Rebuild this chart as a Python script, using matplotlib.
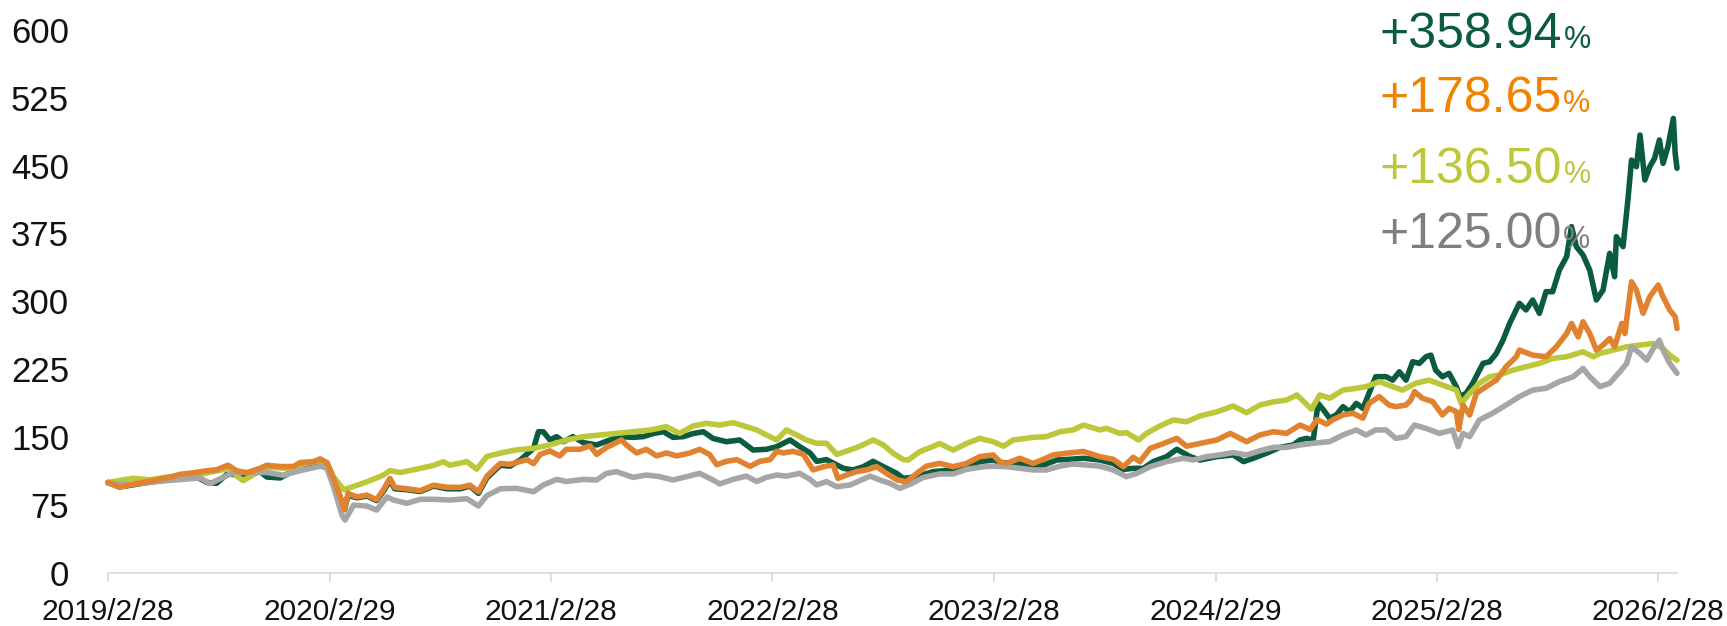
import matplotlib
matplotlib.use('Agg')
import matplotlib.pyplot as plt
import pandas as pd

plt.rcParams['font.family'] = ['Liberation Sans', 'DejaVu Sans']

# ---------------- data (index, start = 100) ----------------
green_dates = ['2019-02-28','2019-03-19','2019-04-16','2019-05-14','2019-06-05','2019-06-27','2019-07-19','2019-08-10','2019-08-26','2019-09-14','2019-09-28','2019-10-15','2019-11-06','2019-11-17','2019-12-09','2019-12-31','2020-01-11','2020-02-02','2020-02-13','2020-02-24','2020-03-06','2020-03-17','2020-03-24','2020-03-30','2020-04-13','2020-04-30','2020-05-16','2020-05-27','2020-06-07','2020-06-15','2020-07-05','2020-07-27','2020-08-18','2020-09-09','2020-10-01','2020-10-17','2020-10-31','2020-11-14','2020-12-06','2020-12-22','2021-01-08','2021-01-30','2021-02-07','2021-02-15','2021-02-26','2021-03-09','2021-03-20','2021-04-05','2021-04-22','2021-05-14','2021-06-05','2021-06-21','2021-07-13','2021-07-30','2021-08-15','2021-09-01','2021-09-17','2021-10-04','2021-10-20','2021-11-06','2021-11-22','2021-12-14','2022-01-05','2022-01-27','2022-02-18','2022-03-07','2022-03-29','2022-04-14','2022-05-01','2022-05-12','2022-05-28','2022-06-08','2022-06-25','2022-07-11','2022-07-28','2022-08-13','2022-08-30','2022-09-21','2022-10-02','2022-10-24','2022-11-20','2022-12-23','2023-01-14','2023-02-05','2023-02-27','2023-03-10','2023-04-07','2023-05-04','2023-05-21','2023-06-12','2023-07-04','2023-07-26','2023-08-22','2023-09-13','2023-09-30','2023-10-16','2023-11-02','2023-11-18','2023-12-10','2023-12-27','2024-01-18','2024-02-03','2024-03-02','2024-03-29','2024-04-15','2024-05-01','2024-05-23','2024-06-14','2024-07-06','2024-07-17','2024-07-28','2024-08-08','2024-08-16','2024-08-25','2024-09-04','2024-09-15','2024-09-26','2024-10-07','2024-10-18','2024-10-29','2024-11-08','2024-11-19','2024-12-06','2024-12-17','2024-12-28','2025-01-08','2025-01-19','2025-01-30','2025-02-10','2025-02-18','2025-02-26','2025-03-09','2025-03-20','2025-04-01','2025-04-07','2025-04-17','2025-04-28','2025-05-15','2025-05-26','2025-06-06','2025-06-17','2025-06-28','2025-07-14','2025-07-25','2025-08-05','2025-08-16','2025-08-27','2025-09-07','2025-09-18','2025-09-30','2025-10-08','2025-10-16','2025-10-27','2025-11-07','2025-11-18','2025-11-29','2025-12-10','2025-12-18','2025-12-21','2026-01-01','2026-01-09','2026-01-15','2026-01-23','2026-01-29','2026-02-06','2026-02-14','2026-02-22','2026-03-02','2026-03-08','2026-03-16','2026-03-25','2026-03-28','2026-03-31']
green_vals = [100,95,98,101,104,107,108,100,99,110,108,109,112,106,105,113,120,121,124,120,103,84,70,86,83,85,80,90,102,93,92,90,96,93,93,96,88,105,119,118,124.8,137.7,156,156,146.9,150.6,145,150.6,144,141.4,146.9,150.6,149.8,150.6,154,156,149.8,150.6,154,156,148.6,145,146.9,135.8,136.6,139.5,146.9,139.5,132.6,123.3,125.2,121.4,115.6,113.8,117.4,123.3,117.4,110,104.5,106.4,112,113.8,116.7,123,124.8,122,121,118,119.2,124.8,125.6,126.7,124.8,121,114.4,115.6,115.6,123,128.5,136.6,128.5,124.8,128.5,130.4,123,126.7,132.3,138.7,141.4,146.9,148.7,146.9,187.3,180,170.9,174.5,183.7,178.2,187.3,181.8,198.4,216.8,216.8,213,222.2,213,233.3,231.5,238.8,240.6,224,216.8,220.5,205.8,194.8,198.4,209.5,231.5,233.3,242.5,257.3,275.7,297.8,290.5,301.5,286.8,310.7,310.7,334.6,349.4,382.5,360.4,351.2,334.6,301.5,312.5,353,327.2,371.4,360.4,411.9,456,448.7,483.7,434,448.7,457.9,478.2,452.4,470.8,502,463.4,447]

orange_dates = ['2019-02-28','2019-03-19','2019-04-16','2019-05-14','2019-06-05','2019-06-27','2019-07-19','2019-08-10','2019-08-26','2019-09-14','2019-09-28','2019-10-15','2019-11-06','2019-11-17','2019-12-09','2019-12-31','2020-01-11','2020-02-02','2020-02-13','2020-02-24','2020-03-06','2020-03-17','2020-03-24','2020-03-30','2020-04-13','2020-04-30','2020-05-16','2020-05-27','2020-06-07','2020-06-15','2020-07-05','2020-07-27','2020-08-18','2020-09-09','2020-10-01','2020-10-17','2020-10-31','2020-11-14','2020-12-06','2020-12-22','2021-01-19','2021-01-30','2021-02-10','2021-02-26','2021-03-14','2021-03-25','2021-04-16','2021-05-03','2021-05-14','2021-05-30','2021-06-24','2021-07-02','2021-07-19','2021-08-04','2021-08-21','2021-09-06','2021-09-23','2021-10-15','2021-10-31','2021-11-16','2021-11-28','2021-12-14','2021-12-31','2022-01-22','2022-02-07','2022-02-24','2022-03-07','2022-03-18','2022-04-03','2022-04-20','2022-05-06','2022-05-23','2022-06-08','2022-06-16','2022-06-30','2022-07-17','2022-08-02','2022-08-19','2022-09-04','2022-09-21','2022-10-07','2022-10-24','2022-11-09','2022-12-01','2022-12-23','2023-01-14','2023-02-05','2023-02-27','2023-03-10','2023-03-21','2023-04-12','2023-05-04','2023-05-21','2023-06-06','2023-06-28','2023-07-26','2023-08-22','2023-09-13','2023-09-30','2023-10-16','2023-10-27','2023-11-13','2023-12-05','2023-12-27','2024-01-12','2024-02-03','2024-03-02','2024-03-24','2024-04-20','2024-05-12','2024-06-03','2024-06-25','2024-07-17','2024-08-03','2024-08-14','2024-08-30','2024-09-10','2024-09-26','2024-10-12','2024-10-29','2024-11-08','2024-11-25','2024-12-11','2024-12-22','2025-01-08','2025-01-16','2025-01-22','2025-02-04','2025-02-21','2025-03-09','2025-03-20','2025-04-01','2025-04-05','2025-04-12','2025-04-23','2025-05-04','2025-05-20','2025-06-06','2025-06-22','2025-07-09','2025-07-14','2025-08-05','2025-08-27','2025-09-13','2025-09-30','2025-10-08','2025-10-19','2025-10-27','2025-11-07','2025-11-18','2025-11-29','2025-12-10','2025-12-18','2025-12-30','2026-01-04','2026-01-15','2026-01-23','2026-02-03','2026-02-14','2026-02-28','2026-03-08','2026-03-19','2026-03-28','2026-03-31']
orange_vals = [100,94.7,98.7,102,105,109,110.7,113,114,119,113,110.7,115.7,119,117.6,117.6,122,123,126,122,104.5,84,70,88,84,86,81,91.7,104.5,94.6,93,91,97,94.6,94.6,97,89.8,107,121,120,125.2,120.8,131,134.8,129.3,136.6,136.6,140.4,131,138.5,146.9,141.4,132.6,136.6,129.3,132.6,129.3,132.6,136.6,131,119.6,123.3,125.2,117.8,123.3,125.2,134.4,132.6,134.4,131,113.8,117.4,119.3,104.5,108.2,112,113.8,117.4,110,103,100.7,110,118,121,117.4,121,128.5,130.4,123,121,126.7,121,125.6,130.4,132.3,134.2,128.5,125.6,117.4,127.8,123,137.6,143,148.7,140,143,146.9,154.2,145,152.4,156,154.2,163.4,158.5,169.5,164.4,169.5,174.5,176.5,171,187.3,194.8,185.5,183.7,185.5,191,200.3,193,189.3,174.5,181.8,178.2,158.5,185.5,174.5,198.4,205.8,213,227.8,238.8,246.2,240.6,238.8,249.8,264.5,275.6,260.8,277.5,264.5,246.2,251.7,259,249.8,275.6,264.5,321.6,312.5,286.8,305,318,305,290.5,283,270]

lime_dates = ['2019-02-28','2019-04-10','2019-05-08','2019-06-05','2019-07-30','2019-09-12','2019-10-09','2019-11-17','2019-12-31','2020-01-11','2020-02-13','2020-02-24','2020-03-06','2020-03-23','2020-04-08','2020-04-30','2020-05-27','2020-06-07','2020-06-24','2020-07-21','2020-08-18','2020-09-03','2020-09-14','2020-10-12','2020-10-28','2020-11-14','2020-12-06','2021-01-02','2021-01-30','2021-02-26','2021-03-25','2021-04-22','2021-05-19','2021-06-16','2021-07-13','2021-08-10','2021-09-06','2021-09-28','2021-10-20','2021-11-11','2021-12-03','2021-12-25','2022-01-16','2022-02-02','2022-02-18','2022-03-07','2022-03-23','2022-04-09','2022-04-25','2022-05-12','2022-05-28','2022-06-14','2022-07-01','2022-07-17','2022-08-02','2022-08-13','2022-08-30','2022-09-15','2022-10-02','2022-10-10','2022-10-29','2022-11-15','2022-12-01','2022-12-23','2023-01-14','2023-02-05','2023-02-27','2023-03-16','2023-04-01','2023-05-04','2023-05-26','2023-06-17','2023-07-09','2023-07-26','2023-08-22','2023-09-02','2023-09-24','2023-10-05','2023-10-25','2023-11-07','2023-11-29','2023-12-21','2024-01-12','2024-02-03','2024-03-02','2024-03-29','2024-04-20','2024-05-12','2024-06-03','2024-06-25','2024-07-12','2024-08-05','2024-08-19','2024-09-04','2024-09-26','2024-10-18','2024-11-03','2024-11-25','2024-12-17','2025-01-02','2025-01-24','2025-02-15','2025-03-09','2025-04-01','2025-04-09','2025-04-23','2025-05-09','2025-05-26','2025-06-11','2025-07-03','2025-07-25','2025-08-16','2025-09-07','2025-09-30','2025-10-27','2025-11-13','2025-11-24','2025-12-16','2026-01-07','2026-01-29','2026-02-20','2026-03-08','2026-03-19','2026-03-31']
lime_vals = [100,104.6,103,106,109,115,102,117,115,120,124,122,106,92,95.6,100.7,108,113,111,114.7,118.8,123,119,123,114.7,128.7,132.4,136,137.7,141.4,146.9,150.6,152.4,154.2,156,157.9,161.6,154.2,162.3,165.3,163.4,166,161.6,158,152.4,146.9,158,152.4,146.9,143.3,143.3,131,134.8,138.5,143.3,146.9,141.4,132.3,125.2,124.8,134,138.5,143,135.7,143,148.7,145,140,146.9,149.8,150.6,156,158,163.4,158,159.7,154.2,155,146.9,154.2,162.3,169,167,173.4,178,184.4,177,185.5,189,191,196.6,181,196.6,193,202,204,205.8,211.3,205.8,202,209.5,213,207.6,202,187.3,198.4,209.5,216.8,218.7,224,227.8,231.5,237,238.8,244.3,238.8,242.5,246.2,249.8,251.7,253.5,248,240.6,235]

gray_dates = ['2019-02-28','2019-04-10','2019-06-05','2019-07-30','2019-08-15','2019-09-23','2019-11-17','2019-12-14','2020-01-11','2020-02-13','2020-02-24','2020-03-06','2020-03-20','2020-03-25','2020-04-08','2020-04-30','2020-05-16','2020-06-02','2020-06-13','2020-07-05','2020-07-27','2020-08-18','2020-09-14','2020-10-12','2020-10-31','2020-11-14','2020-12-06','2021-01-02','2021-01-30','2021-02-15','2021-03-09','2021-03-25','2021-04-22','2021-05-14','2021-05-30','2021-06-16','2021-07-13','2021-08-04','2021-08-26','2021-09-17','2021-10-09','2021-10-31','2021-11-22','2021-12-03','2021-12-25','2022-01-16','2022-02-02','2022-02-18','2022-03-07','2022-03-23','2022-04-14','2022-05-01','2022-05-12','2022-05-28','2022-06-14','2022-07-06','2022-07-22','2022-08-08','2022-08-24','2022-09-10','2022-09-26','2022-10-13','2022-11-04','2022-12-01','2022-12-23','2023-01-14','2023-02-11','2023-02-27','2023-03-21','2023-04-12','2023-05-04','2023-05-26','2023-06-17','2023-07-09','2023-07-31','2023-08-22','2023-09-13','2023-10-05','2023-10-22','2023-11-13','2023-12-10','2024-01-07','2024-01-23','2024-02-14','2024-03-07','2024-03-29','2024-04-20','2024-05-12','2024-06-03','2024-06-25','2024-07-17','2024-08-08','2024-09-04','2024-09-26','2024-10-18','2024-11-03','2024-11-19','2024-12-06','2024-12-22','2025-01-08','2025-01-22','2025-02-10','2025-03-04','2025-03-26','2025-04-04','2025-04-12','2025-04-23','2025-05-09','2025-05-31','2025-06-22','2025-07-14','2025-08-05','2025-08-27','2025-09-18','2025-10-11','2025-10-27','2025-11-07','2025-11-24','2025-12-10','2025-12-27','2026-01-07','2026-01-15','2026-01-29','2026-02-09','2026-02-20','2026-03-02','2026-03-08','2026-03-19','2026-03-31']
gray_vals = [99,98,102,105,98.7,111,111,108,113,118,115.7,95.4,64,58.5,75,74,69.5,84,80.6,77,81.4,81.4,80.6,82,74,85.5,93,93.5,89.8,97.2,103.4,101,103.4,102.7,110,111.9,105.6,108.2,106.4,102.7,106.4,110,102.7,98.3,103.4,107,101,105.6,108.2,107,110,103.4,97.2,101,95.3,97.2,101.9,107,102.7,99,93.5,98,105.6,109.4,109.4,114.4,117.4,118,117.4,115.6,113.8,113.8,118,120.4,119.2,118,113.8,106.4,110,117.4,123,126.7,124.8,128.5,130.4,133,130.4,135,138.7,138.7,141.4,143.3,145.1,152.4,158,152.4,158,158,148.7,150.6,163.4,159.7,154.2,158,139.6,154.2,150.6,169,176.5,185.5,194.8,202,204,211.3,216.8,225.9,216.8,205.8,209.5,222.4,231.5,249.8,242.5,235.1,248,257.1,246.2,231.5,220.5]

returns = ['+358.94', '+178.65', '+136.50', '+125.00']
tick_dates = ['2019-02-28', '2020-02-29', '2021-02-28', '2022-02-28',
              '2023-02-28', '2024-02-29', '2025-02-28', '2026-02-28']
tick_labels = ['2019/2/28', '2020/2/29', '2021/2/28', '2022/2/28',
               '2023/2/28', '2024/2/29', '2025/2/28', '2026/2/28']
y_ticks = [0, 75, 150, 225, 300, 375, 450, 525, 600]

# ---------------- styles ----------------
line_colors = {'green': '#0B5B3E', 'lime': '#BCC73A', 'gray': '#A6A6A6', 'orange': '#E0822F'}
text_colors = ['#0B5B3E', '#F08300', '#BDC73A', '#7F7F7F']

W, H = 1727, 626
fig = plt.figure(figsize=(W / 100, H / 100), dpi=100)
ax = fig.add_axes([108 / W, 53 / H, 1569 / W, 543.3 / H])

series = [('green', green_dates, green_vals), ('lime', lime_dates, lime_vals),
          ('gray', gray_dates, gray_vals), ('orange', orange_dates, orange_vals)]
for name, d, v in series:
    ax.plot(pd.to_datetime(d), v, color=line_colors[name], lw=4.0,
            solid_joinstyle='round', solid_capstyle='round', clip_on=False)

ax.set_xlim(pd.Timestamp('2019-02-28'), pd.Timestamp('2026-03-31'))
ax.set_ylim(0, 600)
ax.set_yticks(y_ticks)
ax.set_yticklabels([str(t) for t in y_ticks])
ax.set_xticks(pd.to_datetime(tick_dates))
ax.set_xticklabels(tick_labels)

for s in ['left', 'right', 'top']:
    ax.spines[s].set_visible(False)
ax.spines['bottom'].set_color('#D9D9D9')
ax.spines['bottom'].set_linewidth(1.2)
ax.tick_params(axis='y', length=0, pad=28, labelsize=25, labelcolor='#111111')
ax.tick_params(axis='x', length=6.8, width=1.2, color='#D9D9D9', pad=11,
               labelsize=21.5, labelcolor='#111111')

# ---------------- return annotations ----------------
baselines = [48, 112, 183, 248]
renderer = fig.canvas.get_renderer()
for txt, col, b in zip(returns, text_colors, baselines):
    t = fig.text(1379 / W, 1 - b / H, txt, color=col, fontsize=36,
                 ha='left', va='baseline')
    ext = t.get_window_extent(renderer=renderer)
    fig.text((ext.x1 + 2) / W, 1 - b / H, '%', color=col, fontsize=22,
             ha='left', va='baseline')

fig.savefig('out.png', dpi=100, facecolor='white')
